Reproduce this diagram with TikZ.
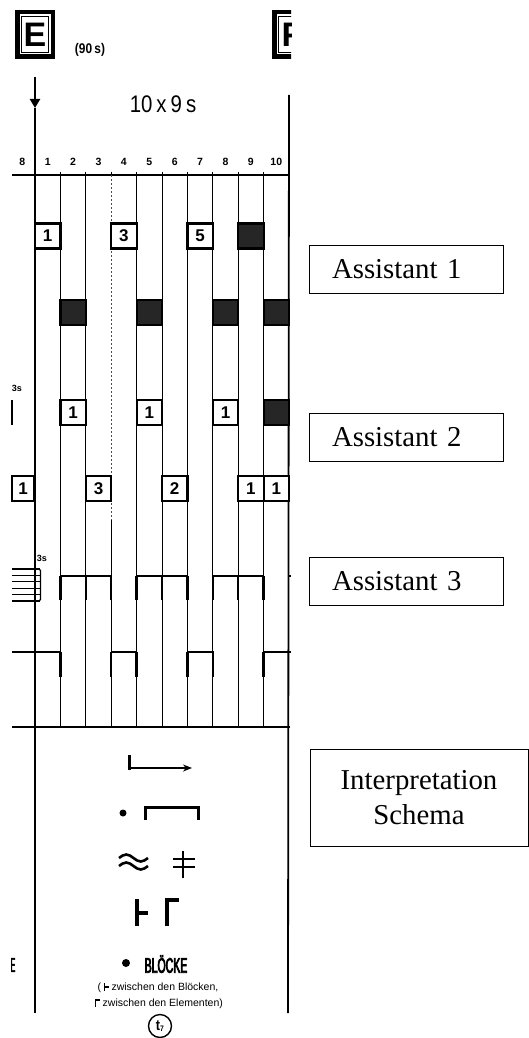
\documentclass[tikz,border=0pt]{standalone}
\usepackage{fontspec}
\setmainfont{Liberation Serif}
\newfontfamily\sfn{Liberation Sans}
\newfontfamily\sfc[FakeStretch=0.85]{Liberation Sans}
\newfontfamily\blkc[FakeStretch=0.5,FakeBold=3.5]{Liberation Sans}
\newfontfamily\ecut[FakeStretch=0.35,FakeBold=2]{Liberation Sans}
\usetikzlibrary{arrows.meta}
\newcommand{\tackR}{\rule{1.3pt}{7.5pt}\rule[3.1pt]{3.2pt}{1.3pt}}
\newcommand{\gammaR}{\rule{1.3pt}{7.5pt}\rule[6.2pt]{3.4pt}{1.3pt}}
\tikzset{
  colline/.style={line width=0.9pt},
  mainline/.style={line width=1.8pt},
  numbox/.style={draw, line width=2.2pt, fill=white, minimum width=25.4pt, minimum height=25pt, inner sep=0pt, font=\sfn\bfseries\fontsize{17}{17}\selectfont},
  darkbox/.style={draw, line width=2.2pt, fill=black!85, minimum width=25.4pt, minimum height=25pt, inner sep=0pt},
  asst/.style={draw, line width=0.9pt, minimum width=194pt, minimum height=48pt, text width=148pt, inner xsep=23pt, align=left, font=\fontsize{28.8}{34.6}\selectfont},
  wave/.style={line width=1.6pt},
  dropline/.style={line width=2.5pt},
  symline/.style={line width=2.6pt},
  colnum/.style={font=\sfn\bfseries\fontsize{10.5}{11}\selectfont, inner sep=0pt},
  small/.style={font=\sfn\bfseries\fontsize{9}{9}\selectfont, inner sep=0pt},
  note/.style={font=\sfn\fontsize{10.5}{12}\selectfont, inner sep=0pt},
}
\begin{document}
\begin{tikzpicture}[x=1pt,y=-1pt]
\useasboundingbox (0,0) rectangle (529,1038);

% E box
\draw[line width=4.5pt] (17.25,12.25) rectangle (52.75,56.75);
\draw[line width=1.4pt] (21.5,16.5) rectangle (48.5,52.5);
\node[font=\sfn\bfseries\fontsize{34}{34}\selectfont, inner sep=0pt] (Elab) at (35,35) {E};
\node[font=\sfc\bfseries\fontsize{14}{14}\selectfont, inner sep=0pt] (dur) at (90,50) {(90\,s)};
% F box (clipped)
\begin{scope}
\clip (260,0) rectangle (291,70);
\draw[line width=4.5pt] (274.25,12.25) rectangle (309.75,56.75);
\draw[line width=1.4pt] (278.5,16.5) rectangle (305.5,52.5);
\node[font=\sfn\bfseries\fontsize{34}{34}\selectfont, inner sep=0pt] (Flab) at (292,35) {F};
\end{scope}

% arrow and title
\coordinate (arrTop) at (35,77);
\coordinate (arrBot) at (35,108);
\draw[line width=2.2pt, -{Triangle[length=9pt,width=10pt]}] (arrTop) -- (arrBot);
\node[font=\sfc\fontsize{24}{24}\selectfont, inner sep=0pt] (title) at (163,104) {10\,x\,9\,s};

% column numbers
\node[colnum] (n0) at (22.3,162) {8};
\foreach \k/\t in {1/1,2/2,3/3,4/4,5/5,6/6,7/7,8/8,9/9,10/10}{
  \pgfmathsetmacro{\cx}{35+25.4*(\k-0.5)}
  \node[colnum] (n\k) at (\cx,162) {\t};
}

% grid
\coordinate (tl) at (12,175);
\coordinate (tr) at (290,175);
\coordinate (bl) at (12,727);
\coordinate (br) at (290,727);
\draw[line width=1.4pt] (tl) -- (tr);
\draw[line width=1.4pt] (bl) -- (br);
\foreach \k in {1,2,4,5,6,7,8,9}{
  \pgfmathsetmacro{\cx}{35+25.4*\k}
  \draw[colline] (\cx,172) -- (\cx,728);
}
\draw[colline, dash pattern=on 1.5pt off 2.5pt, black!70] (111.2,175) -- (111.2,520);
\draw[colline] (111.2,172) -- (111.2,175) (111.2,520) -- (111.2,728);
\coordinate (Ltop) at (35,108);
\coordinate (Lbot) at (35,1013);
\coordinate (Rtop) at (289,95);
\coordinate (Rbot) at (288,1013);
\draw[mainline] (Ltop) -- (Lbot);
\draw[mainline] (Rtop) -- (Rbot);

% row A (Assistant 1)
\node[numbox] (a1) at (47.7,236) {1};
\node[numbox] (a4) at (123.9,236) {3};
\node[numbox] (a7) at (200.1,236) {5};
\node[darkbox] (a9) at (250.9,236) {};
% row B
\node[darkbox] (b2) at (73.1,312.5) {};
\node[darkbox] (b5) at (149.3,312.5) {};
\node[darkbox] (b8) at (225.5,312.5) {};
\node[darkbox] (b10) at (276.3,312.5) {};
% row C (Assistant 2)
\node[small] (s3a) at (17,388) {3s};
\coordinate (tickA) at (12,400);
\coordinate (tickB) at (12,425);
\draw[line width=1.2pt] (tickA) -- (tickB);
\node[numbox] (c2) at (73.1,412.5) {1};
\node[numbox] (c5) at (149.3,412.5) {1};
\node[numbox] (c8) at (225.5,412.5) {1};
\node[darkbox] (c10) at (276.3,412.5) {};
% row D
\node[numbox, minimum width=22pt] (d0) at (23,488.5) {1};
\node[numbox] (d3) at (98.5,488.5) {3};
\node[numbox] (d6) at (174.7,488.5) {2};
\node[numbox] (d9) at (250.9,488.5) {1};
\node[numbox] (d10) at (276.3,488.5) {1};

% Assistant 3 waves
\node[small] (s3b) at (42,558) {3s};
\foreach \yy in {569,575.4,581.8,588.2,594.6,601}{
  \draw[line width=1.3pt] (12,\yy) -- (40,\yy);
}
\draw[line width=1.3pt, rounded corners=1.5pt] (36,569) -- (40.5,569) -- (40.5,601) -- (36,601);
\foreach \a/\b in {60.4/111.2,136.6/187.4,212.8/263.6}{
  \draw[wave] (\a,600) -- (\a,576) -- (\b,576) -- (\b,600);
}
\foreach \k in {1,...,9}{
  \pgfmathsetmacro{\cx}{35+25.4*\k}
  \draw[dropline] (\cx,576) -- (\cx,600);
}
\draw[wave] (289,576) -- (291,576);
\draw[wave] (12,652) -- (35,652);
\foreach \a/\b in {35/60.4,111.2/136.6,187.4/212.8}{
  \draw[wave] (\a,652) -- (\b,652) -- (\b,677);
  \draw[dropline] (\b,652) -- (\b,677);
}
\foreach \a/\b in {111.2/136.6,187.4/212.8}{
  \draw[dropline] (\a,652) -- (\a,677);
}
\draw[dropline] (263.6,652) -- (263.6,677);
\draw[wave] (263.6,652) -- (291,652);

% right boxes
\node[asst] (as1) at (406,269) {Assistant 1};
\node[asst] (as2) at (406,437.5) {Assistant 2};
\node[asst] (as3) at (406,581.5) {Assistant 3};
\node[draw, line width=0.9pt, minimum width=218pt, minimum height=97pt, align=center, font=\fontsize{28.8}{34.6}\selectfont] (interp) at (419,797.5) {Interpretation\\Schema};

% symbols in bottom panel
\coordinate (s1a) at (129,755);
\coordinate (s1c) at (192,768);
\draw[line width=3pt] (s1a) -- (129,769.5);
\draw[line width=2pt, -{Stealth[length=9pt,width=7pt]}] (127.5,768) -- (s1c);
\node[circle, fill=black, inner sep=0pt, minimum size=7pt] (dot1) at (123,813) {};
\draw[symline, line width=3pt] (145,820) -- (145,807) -- (198,807) -- (198,820);
\draw[line width=2.6pt] (119,858) sin (126.25,854.5) cos (133.5,858) sin (140.75,861.5) cos (148,858);
\draw[line width=2.6pt] (119,866) sin (126.25,862.5) cos (133.5,866) sin (140.75,869.5) cos (148,866);
\draw[symline] (183,851) -- (183,878);
\draw[symline] (173,859) -- (195,859);
\draw[symline] (173,867) -- (195,867);
\draw[line width=3.2pt] (137,899) -- (137,926);
\draw[line width=3.2pt] (137,913) -- (148,913);
\draw[line width=3.2pt] (167,926) -- (167,900) -- (179,900);
\node[circle, fill=black, inner sep=0pt, minimum size=8pt] (dot2) at (126,963) {};
\node[font=\blkc\fontsize{21}{21}\selectfont, inner sep=0pt] (blocke) at (166,964) {BLÖCKE};
\node[note] (l1) at (158,988) {( \tackR\ zwischen den Blöcken,};
\node[note] (l2) at (159,1004) {\gammaR\ zwischen den Elementen)};
\node[draw, circle, line width=1.4pt, minimum size=23pt, inner sep=0pt, font=\sfc\bfseries\fontsize{15}{15}\selectfont] (t7) at (160,1026) {t\raisebox{-1.5pt}{\fontsize{8}{8}\selectfont 7}};
\node[font=\ecut\fontsize{20}{20}\selectfont, inner sep=0pt] (Ecut) at (13,965) {E};
\end{tikzpicture}
\end{document}
